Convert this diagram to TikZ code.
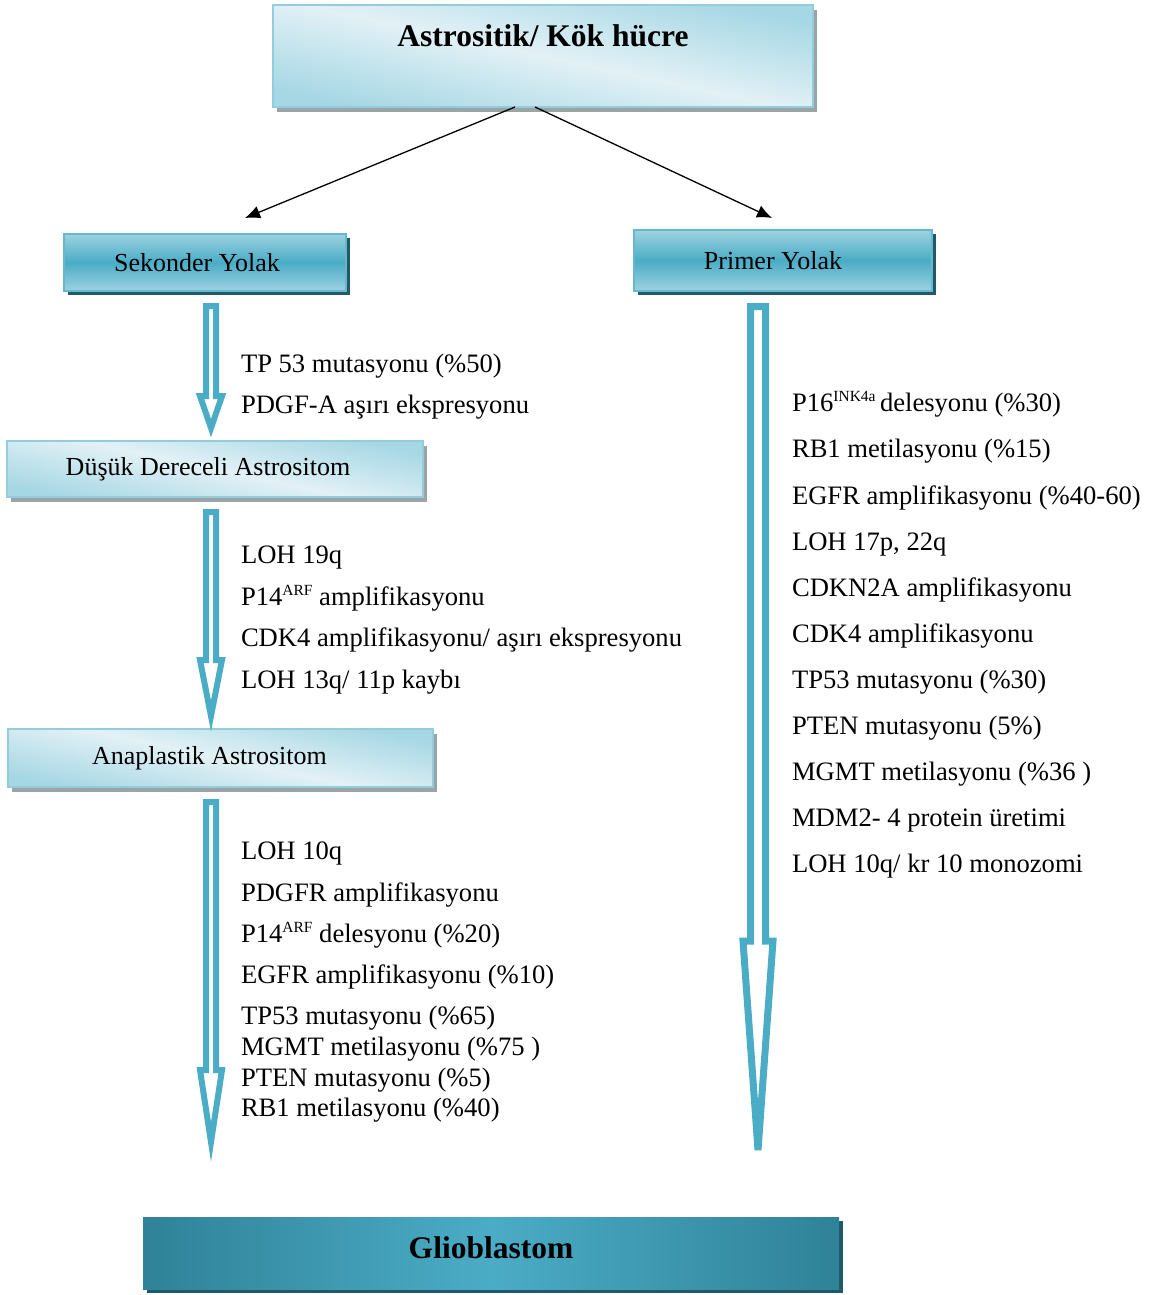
\documentclass[tikz,border=0pt]{standalone}
\usepackage{fontspec}
\setmainfont{Liberation Serif}
\usetikzlibrary{arrows.meta,calc,shadows}
\definecolor{arrowblue}{HTML}{4BACC6}
\definecolor{boxmid}{HTML}{4BACC6}
\definecolor{boxlight}{HTML}{9CD2E0}
\definecolor{paleA}{HTML}{A6D7E4}
\definecolor{paleB}{HTML}{E2F1F6}
\definecolor{paleedge}{HTML}{92CDDC}
\definecolor{darkshadow}{HTML}{215968}
\definecolor{glioedge}{HTML}{2F8298}
\definecolor{dotshadow}{HTML}{9AA3A5}
\newcommand\supx[1]{\raisebox{10pt}{\fontsize{15.5}{15.5}\selectfont #1}}
\newcommand\hollowarrow[7]{%
  \draw[blockarr, line width=#7pt] (#1-#5,#2) -- (#1-#5,#3) -- (#1-#6,#3) -- (#1,#4)
    -- (#1+#6,#3) -- (#1+#5,#3) -- (#1+#5,#2) -- cycle;}
\begin{document}
\begin{tikzpicture}[x=1pt,y=1pt,
  every node/.style={inner sep=0pt, outer sep=0pt},
  txt/.style={anchor=base west, font=\fontsize{26.6}{30}\selectfont},
  palebox/.style={draw=paleedge, line width=2.5pt, anchor=north west,
    shading=axis, top color=paleA, bottom color=paleA, middle color=paleB, shading angle=-12,
    drop shadow={shadow xshift=4pt, shadow yshift=-5pt, fill=dotshadow, opacity=1},
    font=\fontsize{26}{30}\selectfont},
  pathbox/.style={draw=boxmid!85!white, line width=2.5pt, anchor=north west,
    top color=boxlight, bottom color=boxlight, middle color=boxmid,
    drop shadow={shadow xshift=4pt, shadow yshift=-4pt, fill=darkshadow, opacity=1},
    font=\fontsize{26}{30}\selectfont},
  gliobox/.style={anchor=north west, draw=none,
    left color=glioedge, right color=glioedge, middle color=boxmid,
    drop shadow={shadow xshift=4pt, shadow yshift=-4pt, fill=darkshadow, opacity=1},
    font=\bfseries\fontsize{31.5}{36}\selectfont},
  blockarr/.style={draw=arrowblue, fill=white, line join=miter},
  thinarr/.style={-{Latex[length=15pt,width=13pt]}, line width=1.3pt, black}
]
\useasboundingbox (0,0) rectangle (1153,-1295);

% boxes
\node[palebox, minimum width=540pt, minimum height=102pt] (top) at (273,-5) {};
\node[font=\bfseries\fontsize{31.5}{36}\selectfont] (toptext) at (543,-36) {Astrositik/ Kök hücre};
\node[pathbox, minimum width=282pt, minimum height=57pt] (sek) at (64,-234) {\hspace*{-16pt}Sekonder Yolak};
\node[pathbox, minimum width=298pt, minimum height=61pt] (pri) at (634,-230) {\hspace*{-20pt}Primer Yolak};
\node[palebox, minimum width=416pt, minimum height=56pt] (dus) at (7,-441) {\hspace*{-14pt}Düşük Dereceli Astrositom};
\node[palebox, minimum width=425pt, minimum height=58pt] (ana) at (8,-729) {\hspace*{-22pt}Anaplastik Astrositom};
\node[gliobox, minimum width=696pt, minimum height=72pt] (glio) at (143,-1217) {\raisebox{11pt}{Glioblastom}};

% thin arrows
\coordinate (sekin) at (245,-218);
\coordinate (priin) at (772,-218);
\draw[thinarr] ($(top.south)+(-28,0)$) -- (sekin);
\draw[thinarr] ($(top.south)+(-8,0)$) -- (priin);

% hollow block arrows: x, ytop, yhead, ytip, shafthalf, headhalf, linewidth
\hollowarrow{211}{-306}{-396}{-428}{5}{11}{6}
\hollowarrow{211}{-512}{-660}{-716}{5}{11}{6}
\hollowarrow{211}{-802}{-1070}{-1142}{5}{11}{6}
\hollowarrow{758}{-306.5}{-941}{-1150}{7.5}{15}{7}

% left texts
\node[txt] (l1) at (241,-372) {TP 53 mutasyonu (\%50)};
\node[txt] (l2) at (241,-413) {PDGF-A aşırı ekspresyonu};

\node[txt] (l3) at (241,-563) {LOH 19q};
\node[txt] (l4) at (241,-605) {P14\supx{ARF} amplifikasyonu};
\node[txt] (l5) at (241,-646) {CDK4 amplifikasyonu/ aşırı ekspresyonu};
\node[txt] (l6) at (241,-688) {LOH 13q/ 11p kaybı};

\node[txt] (l7) at (241,-859) {LOH 10q};
\node[txt] (l8) at (241,-901) {PDGFR amplifikasyonu};
\node[txt] (l9) at (241,-942) {P14\supx{ARF} delesyonu (\%20)};
\node[txt] (l10) at (241,-983) {EGFR amplifikasyonu (\%10)};
\node[txt] (l11) at (241,-1024) {TP53 mutasyonu (\%65)};
\node[txt] (l12) at (241,-1055) {MGMT metilasyonu (\%75 )};
\node[txt] (l13) at (241,-1086) {PTEN mutasyonu (\%5)};
\node[txt] (l14) at (241,-1116) {RB1 metilasyonu (\%40)};

% right texts
\node[txt] (r1) at (792,-411) {P16\supx{INK4a}\,delesyonu (\%30)};
\node[txt] (r2) at (792,-457) {RB1 metilasyonu (\%15)};
\node[txt] (r3) at (792,-504) {EGFR amplifikasyonu (\%40-60)};
\node[txt] (r4) at (792,-550) {LOH 17p, 22q};
\node[txt] (r5) at (792,-596) {CDKN2A amplifikasyonu};
\node[txt] (r6) at (792,-642) {CDK4 amplifikasyonu};
\node[txt] (r7) at (792,-688) {TP53 mutasyonu (\%30)};
\node[txt] (r8) at (792,-734) {PTEN mutasyonu (5\%)};
\node[txt] (r9) at (792,-780) {MGMT metilasyonu (\%36 )};
\node[txt] (r10) at (792,-826) {MDM2- 4 protein üretimi};
\node[txt] (r11) at (792,-872) {LOH 10q/ kr 10 monozomi};
\end{tikzpicture}
\end{document}
